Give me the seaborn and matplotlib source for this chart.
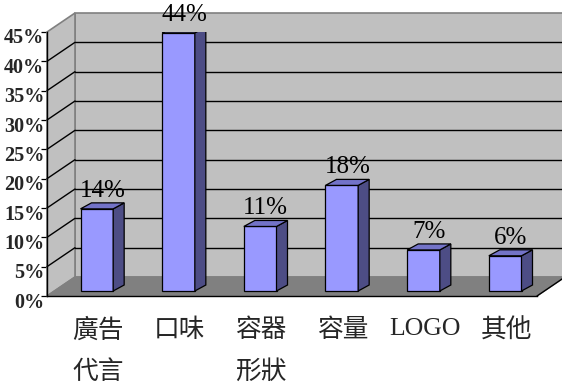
import matplotlib
matplotlib.use("Agg")
import numpy as np
import pandas as pd
import seaborn as sns
import matplotlib.pyplot as plt
from matplotlib.patches import Polygon
from matplotlib.lines import Line2D
from matplotlib.transforms import ScaledTranslation

# Survey results: share of respondents per factor
categories = ["廣告\n代言", "口味", "容器\n形狀", "容量", "LOGO", "其他"]
shares = [0.14, 0.44, 0.11, 0.18, 0.07, 0.06]
value_labels = ["14%", "44%", "11%", "18%", "7%", "6%"]
y_ticks = [0.00, 0.05, 0.10, 0.15, 0.20, 0.25, 0.30, 0.35, 0.40, 0.45]
y_tick_labels = ["0%", "5%", "10%", "15%", "20%", "25%", "30%", "35%", "40%", "45%"]

sns.set_theme(style="white")
plt.rcParams["font.family"] = ["Liberation Serif", "Noto Sans CJK TC"]

W, H, DPI = 562, 387, 100
fig = plt.figure(figsize=(W / DPI, H / DPI), dpi=DPI)
fig.patch.set_facecolor("white")

# front plane of the pseudo-3D box, in pixels
AX_L, AX_R, AX_B, AX_T = 47, 537, 296, 32
ax = fig.add_axes([AX_L / W, (H - AX_B) / H, (AX_R - AX_L) / W, (AX_B - AX_T) / H])
ax.patch.set_alpha(0)

n = len(categories)
xmin, xmax, ymax = -0.5, n - 0.5, 0.45
px_x = (xmax - xmin) / (AX_R - AX_L)   # data units per pixel, x
px_y = ymax / (AX_B - AX_T)            # data units per pixel, y

# depth of the box, bar inset and bar depth (pixels -> data)
DX, DY = 28 * px_x, 19 * px_y
FX, FY = 9 * px_x, 5 * px_y
BDX, BDY = 11 * px_x, 6 * px_y

WALL = "#C0C0C0"
FLOOR = "#808080"
EDGE = "#808080"
FRONT = "#9999FF"
SIDE = "#4D4D85"
TOP = "#7373C8"

df = pd.DataFrame({"factor": categories, "share": shares})
sns.barplot(data=df, x="factor", y="share", width=0.4, color=FRONT,
            saturation=1, edgecolor="black", linewidth=0.9, ax=ax, zorder=5)
bars = list(ax.patches)
ax.set_xlim(xmin, xmax)
ax.set_ylim(0, ymax)
ax.set_xlabel("")
ax.set_ylabel("")

# back wall, left wall and floor
back = Polygon([(xmin + DX, DY), (xmax + DX, DY), (xmax + DX, ymax + DY), (xmin + DX, ymax + DY)],
               closed=True, facecolor=WALL, edgecolor=EDGE, linewidth=1.2, zorder=0.5, clip_on=False)
left = Polygon([(xmin, 0), (xmin + DX, DY), (xmin + DX, ymax + DY), (xmin, ymax)],
               closed=True, facecolor=WALL, edgecolor=EDGE, linewidth=1.2, zorder=0.6, clip_on=False)
floor = Polygon([(xmin, 0), (xmax, 0), (xmax + DX, DY), (xmin + DX, DY)],
                closed=True, facecolor=FLOOR, edgecolor=EDGE, linewidth=1.0, zorder=0.7, clip_on=False)
for p in (back, left, floor):
    ax.add_patch(p)
ax.add_line(Line2D([xmax, xmax + DX], [0, DY], color="black", linewidth=1.0, zorder=2, clip_on=False))

# gridlines on the walls
for v in y_ticks[1:-1]:
    ax.add_line(Line2D([xmin + DX, xmax + DX], [v + DY, v + DY], color="black", linewidth=1.0,
                       zorder=1, clip_on=False))
    ax.add_line(Line2D([xmin, xmin + DX], [v, v + DY], color="black", linewidth=1.0,
                       zorder=1, clip_on=False))

# push bars into the box and give them side and top faces
for patch, v, lab in zip(bars, shares, value_labels):
    patch.set_x(patch.get_x() + FX)
    patch.set_y(FY)
    x0 = patch.get_x()
    x1 = x0 + patch.get_width()
    y0 = FY
    y1 = FY + v
    side = Polygon([(x1, y0), (x1 + BDX, y0 + BDY), (x1 + BDX, y1 + BDY), (x1, y1)],
                   closed=True, facecolor=SIDE, edgecolor="black", linewidth=0.9, zorder=5)
    top = Polygon([(x0, y1), (x0 + BDX, y1 + BDY), (x1 + BDX, y1 + BDY), (x1, y1)],
                  closed=True, facecolor=TOP, edgecolor="black", linewidth=0.9, zorder=5)
    ax.add_patch(side)
    ax.add_patch(top)
    ax.text((x0 + x1 + BDX) / 2, y1 + BDY + 1 * px_y, lab, ha="center", va="bottom",
            fontsize=18, color="black", zorder=6, family="Liberation Serif")

# axes and ticks
for s in ("top", "right"):
    ax.spines[s].set_visible(False)
for s in ("left", "bottom"):
    ax.spines[s].set_color("black")
    ax.spines[s].set_linewidth(1.0)
    ax.spines[s].set_zorder(3)

ax.set_yticks(y_ticks)
ax.set_yticklabels(y_tick_labels, fontsize=14.5, fontweight="bold", family="Liberation Serif")
ax.tick_params(axis="y", direction="out", length=4, width=0.9, color="black", pad=-2, left=True)
for lab in ax.get_yticklabels():
    lab.set_transform(lab.get_transform() + ScaledTranslation(0, -4 / DPI, fig.dpi_scale_trans))

ax.set_xticks(range(n))
ax.set_xticklabels(categories, fontsize=18.5, linespacing=1.95)
ax.tick_params(axis="x", which="major", length=0, pad=16)
ax.set_xticks(np.arange(xmin, xmax + 0.01, 1.0), minor=True)
ax.tick_params(axis="x", which="minor", direction="in", length=4, width=0.9, color="black", bottom=True)
for lab in ax.get_xticklabels():
    lab.set_verticalalignment("top")
    lab.set_transform(lab.get_transform() + ScaledTranslation(10 / DPI, 0, fig.dpi_scale_trans))

fig.savefig("out.png", dpi=DPI, facecolor="white")
